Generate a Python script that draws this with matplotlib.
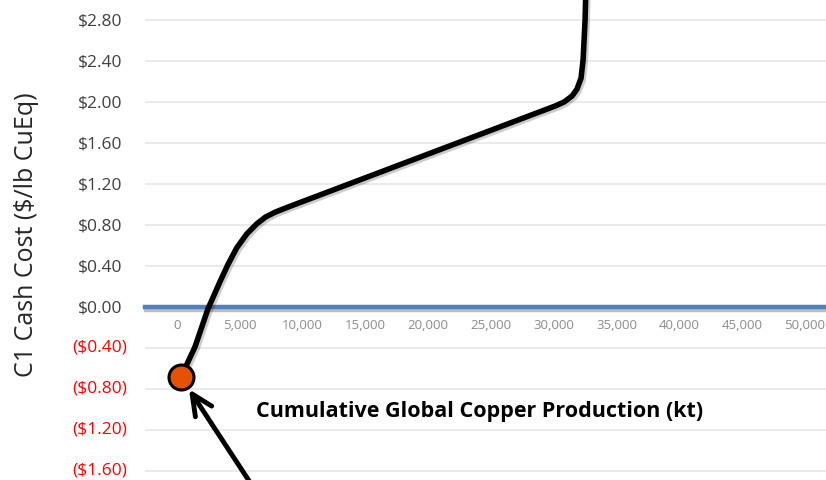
import matplotlib
matplotlib.use("Agg")
import matplotlib.pyplot as plt
import matplotlib.patheffects as pe
import matplotlib.transforms as mtransforms
from matplotlib.ticker import FuncFormatter, FixedLocator

# Cost curve (cumulative kt vs C1 cash cost $/lb CuEq)
cumulative_kt = [317, 1430, 2460, 3410, 4040, 4750, 5550, 6340, 7050,
                 7850, 8950, 30110, 30820, 31460, 31850, 32170, 32330,
                 32490, 32570]
c1_cost = [-0.683, -0.39, -0.02, 0.244, 0.41, 0.576, 0.712, 0.81, 0.878,
           0.927, 0.98, 1.961, 2.0, 2.059, 2.127, 2.234, 2.41, 2.80, 3.19]

y_ticks = [-1.6, -1.2, -0.8, -0.4, 0.0, 0.4, 0.8, 1.2, 1.6, 2.0, 2.4, 2.8]
x_ticks = [0, 5000, 10000, 15000, 20000, 25000, 30000, 35000, 40000, 45000, 50000]

x_title = "Cumulative Global Copper Production (kt)"
y_title = "C1 Cash Cost ($/lb CuEq)"

plt.rcParams['font.family'] = ['Open Sans', 'DejaVu Sans']

fig = plt.figure(figsize=(8.26, 4.8), dpi=100)
ax = fig.add_axes([145 / 826, 0, 681 / 826, 1])

ax.set_xlim(-2548, 51670)
ax.set_ylim(-1.688, 2.995)

# gridlines
for yv in y_ticks:
    if yv != 0:
        ax.axhline(yv, color='#e6e6e6', lw=1.2, zorder=0)

ax.yaxis.set_major_locator(FixedLocator(y_ticks))
ax.xaxis.set_major_locator(FixedLocator(x_ticks))


def money(v, pos):
    if v < -1e-9:
        return "(${:.2f})".format(-v)
    return "${:.2f}".format(abs(v))


ax.yaxis.set_major_formatter(FuncFormatter(money))
ax.xaxis.set_major_formatter(FuncFormatter(lambda v, p: "{:,.0f}".format(v)))
ax.tick_params(axis='y', length=0, pad=16.5, labelsize=12.5, labelcolor='#404040')
ax.tick_params(axis='x', length=0, pad=9, labelsize=9.5, labelcolor='#8c8c8c')

# negative labels: red, with the closing bracket hanging past the others
shift = mtransforms.ScaledTranslation(5 / 100, 2 / 100, fig.dpi_scale_trans)
for lbl, yv in zip(ax.get_yticklabels(), y_ticks):
    if yv < 0:
        lbl.set_color('#ff0000')
        lbl.set_transform(lbl.get_transform() + shift)

for s in ['top', 'right', 'left']:
    ax.spines[s].set_visible(False)
ax.spines['bottom'].set_position(('data', 0))
ax.spines['bottom'].set_color('#4f81bd')
ax.spines['bottom'].set_linewidth(3.2)
ax.spines['bottom'].set_path_effects([pe.SimpleLineShadow(offset=(1, -2), alpha=0.25),
                                      pe.Normal()])

ax.plot(cumulative_kt, c1_cost, color='black', lw=4, solid_joinstyle='round',
        solid_capstyle='round', zorder=3,
        path_effects=[pe.SimpleLineShadow(offset=(1.5, -1.5), alpha=0.2), pe.Normal()])
ax.plot(cumulative_kt[0], c1_cost[0], 'o', ms=18, mfc='#e35205', mec='black',
        mew=2.2, zorder=5, clip_on=False)

ax.annotate("", xy=(cumulative_kt[0], c1_cost[0]), xytext=(57, -87),
            textcoords='offset points', annotation_clip=False,
            arrowprops=dict(arrowstyle='->, head_length=0.75, head_width=0.35',
                            mutation_scale=20, lw=3.5, color='black',
                            shrinkA=0, shrinkB=10.5))

fig.text(480 / 826, 1 - 412 / 480, x_title, ha='center', va='center',
         fontsize=15.5, fontweight='bold', color='black')
fig.text(27 / 826, 1 - 235 / 480, y_title, ha='center', va='center',
         rotation=90, fontsize=18, color='#262626')

fig.savefig("out.png", dpi=100)
